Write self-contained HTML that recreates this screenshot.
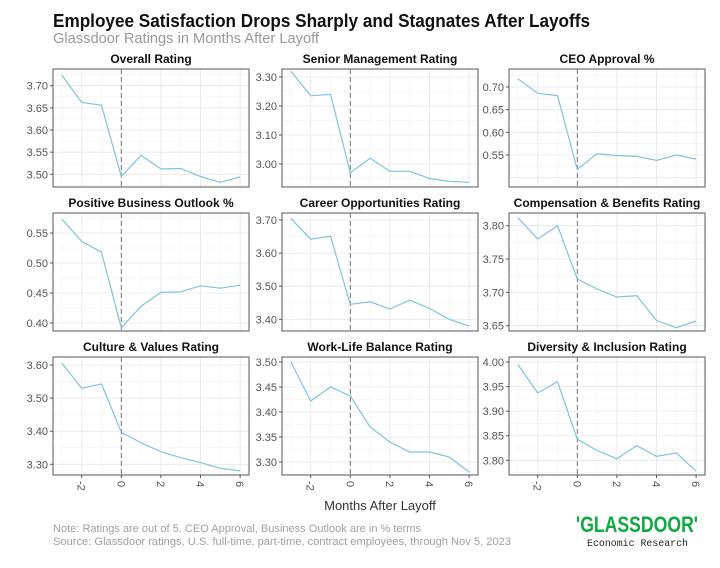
<!DOCTYPE html>
<html><head><meta charset="utf-8"><style>
html,body{margin:0;padding:0;background:#fff;}
svg{display:block;font-family:"Liberation Sans",sans-serif;}
</style></head><body>
<svg id="s" width="720" height="568" viewBox="0 0 720 568" xmlns="http://www.w3.org/2000/svg">
<text x="53" y="27" font-size="18" font-weight="bold" fill="#111" textLength="537" lengthAdjust="spacingAndGlyphs">Employee Satisfaction Drops Sharply and Stagnates After Layoffs</text>
<text x="53" y="43" font-size="14.5" fill="#999" textLength="266" lengthAdjust="spacingAndGlyphs">Glassdoor Ratings in Months After Layoff</text>
<text x="380" y="510" font-size="13" fill="#333" text-anchor="middle">Months After Layoff</text>
<text x="53" y="532" font-size="11" fill="#a0a0a0" textLength="368" lengthAdjust="spacingAndGlyphs">Note: Ratings are out of 5. CEO Approval, Business Outlook are in % terms</text>
<text x="53" y="545" font-size="11" fill="#a0a0a0" textLength="458" lengthAdjust="spacingAndGlyphs">Source: Glassdoor ratings, U.S. full-time, part-time, contract employees, through Nov 5, 2023</text>
<text x="576" y="532" font-size="22" font-weight="bold" fill="#0caa41" textLength="122" lengthAdjust="spacingAndGlyphs">'GLASSDOOR'</text>
<text x="587" y="546" font-size="10.5" fill="#222" font-family="Liberation Mono,monospace" textLength="101" lengthAdjust="spacingAndGlyphs">Economic Research</text>
<g id="g"></g>
</svg>
<script>
var P=[
["Overall Rating",53,69,[3.70,3.65,3.60,3.55,3.50],3.70,85.7,3.50,174.3,[3.724,3.662,3.656,3.495,3.543,3.512,3.513,3.495,3.482,3.494]],
["Senior Management Rating",282,69,[3.30,3.20,3.10,3.00],3.30,77,3.00,164,[3.32,3.235,3.24,2.97,3.02,2.975,2.975,2.95,2.94,2.937]],
["CEO Approval %",509,69,[0.70,0.65,0.60,0.55],0.70,87,0.55,155,[.718,.686,.681,.518,.553,.549,.547,.538,.550,.541]],
["Positive Business Outlook %",53,213,[0.55,0.50,0.45,0.40],0.55,233,0.40,323,[.573,.536,.518,.392,.428,.451,.452,.462,.458,.463]],
["Career Opportunities Rating",282,213,[3.70,3.60,3.50,3.40],3.70,220,3.40,319.3,[3.705,3.642,3.651,3.445,3.453,3.431,3.458,3.433,3.40,3.38]],
["Compensation & Benefits Rating",509,213,[3.80,3.75,3.70,3.65],3.80,225.7,3.65,325.7,[3.812,3.78,3.80,3.72,3.705,3.693,3.695,3.658,3.647,3.657]],
["Culture & Values Rating",53,357,[3.60,3.50,3.40,3.30],3.60,365,3.30,464.3,[3.605,3.53,3.543,3.397,3.365,3.338,3.32,3.305,3.288,3.28]],
["Work-Life Balance Rating",282,357,[3.50,3.45,3.40,3.35,3.30],3.50,362,3.30,462,[3.50,3.422,3.45,3.432,3.37,3.34,3.32,3.32,3.31,3.28]],
["Diversity & Inclusion Rating",509,357,[4.00,3.95,3.90,3.85,3.80],4.00,362,3.80,460.3,[3.995,3.937,3.96,3.843,3.82,3.803,3.83,3.808,3.815,3.778]]
];
var W=196,H=118,h="";
P.forEach(function(p,i){
 var x0=p[1],y0=p[2];
 function X(m){return x0+(m+3.45)*19.8;}
 function Y(v){return p[5]+(v-p[4])*(p[7]-p[5])/(p[6]-p[4]);}
 h+='<text x="'+(x0+W/2)+'" y="'+(y0-6)+'" font-size="12" font-weight="bold" fill="#111" text-anchor="middle">'+p[0].replace("&","&amp;")+'</text>';
 var d=p[3][0]-p[3][1];
 for(var k=-1;k<=p[3].length;k++){var v=p[3][0]-k*d,yy=Y(v),ym=Y(v-d/2);
  if(yy>y0&&yy<y0+H)h+='<line x1="'+x0+'" x2="'+(x0+W)+'" y1="'+yy+'" y2="'+yy+'" stroke="#e6e6e6" stroke-width="0.8"/>';
  if(ym>y0&&ym<y0+H)h+='<line x1="'+x0+'" x2="'+(x0+W)+'" y1="'+ym+'" y2="'+ym+'" stroke="#f2f2f2" stroke-width="0.6"/>';}
 for(var m=-3;m<=6;m++){var xx=X(m);h+='<line x1="'+xx+'" x2="'+xx+'" y1="'+y0+'" y2="'+(y0+H)+'" stroke="'+(m%2==0?'#e6e6e6':'#f2f2f2')+'" stroke-width="'+(m%2==0?0.8:0.6)+'"/>';}
 p[3].forEach(function(v){var yy=Y(v);h+='<line x1="'+(x0-3)+'" x2="'+x0+'" y1="'+yy+'" y2="'+yy+'" stroke="#555"/><text x="'+(x0-5)+'" y="'+(yy+4)+'" font-size="11" fill="#555" text-anchor="end">'+v.toFixed(2)+'</text>';});
 h+='<line x1="'+X(0)+'" x2="'+X(0)+'" y1="'+y0+'" y2="'+(y0+H)+'" stroke="#777" stroke-dasharray="5,3"/>';
 var pts=p[8].map(function(v,j){return X(j-3).toFixed(1)+','+Y(v).toFixed(1);}).join(' ');
 h+='<polyline points="'+pts+'" fill="none" stroke="#80c4d9" stroke-width="1.2"/>';
 h+='<rect x="'+x0+'" y="'+y0+'" width="'+W+'" height="'+H+'" fill="none" stroke="#555" stroke-width="1"/>';
 if(i>=6){[-2,0,2,4,6].forEach(function(m){var xx=X(m);h+='<line x1="'+xx+'" x2="'+xx+'" y1="'+(y0+H)+'" y2="'+(y0+H+3)+'" stroke="#555"/><text transform="translate('+(xx-4)+','+(y0+H+6)+') rotate(90)" font-size="11" fill="#555">'+m+'</text>';});}
});
document.getElementById("g").innerHTML=h;
</script>
</body></html>
